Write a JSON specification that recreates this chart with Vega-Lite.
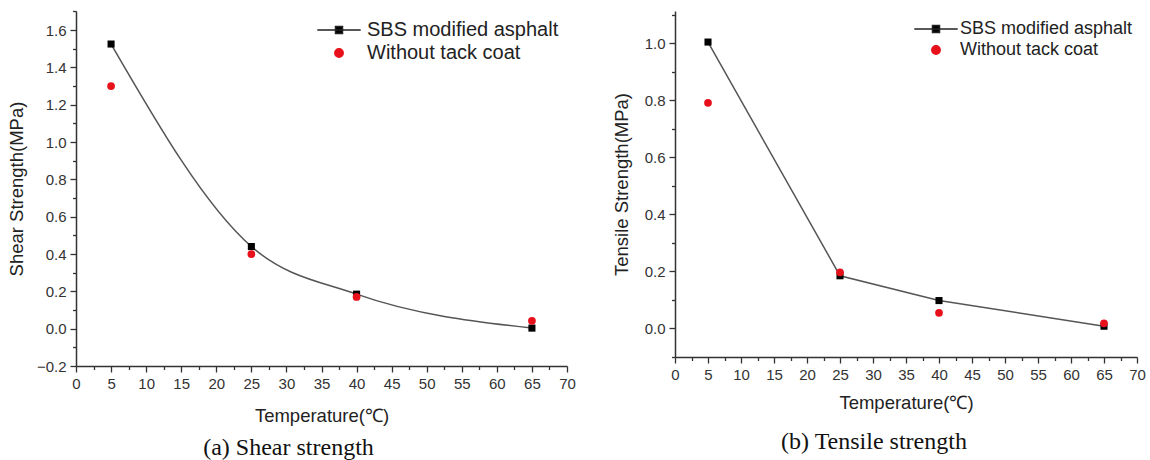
{
  "$schema": "https://vega.github.io/schema/vega-lite/v6.json",
  "background": "white",
  "padding": {"left": 7, "top": 4, "right": 5, "bottom": 0},
  "config": {
    "view": {"stroke": null},
    "axis": {
      "grid": false,
      "domainColor": "#333333",
      "domainWidth": 1.5,
      "tickColor": "#333333",
      "tickWidth": 1.3,
      "labelFont": "Liberation Sans",
      "labelFontSize": 15,
      "labelColor": "#333333",
      "titleFont": "Liberation Sans",
      "titleFontSize": 18.5,
      "titleFontWeight": "normal",
      "titleColor": "#222222",
      "labelFlush": false,
      "labelOverlap": false
    },
    "legend": {
      "orient": "none",
      "title": null,
      "padding": 0,
      "labelFont": "Liberation Sans",
      "labelFontSize": 20,
      "labelColor": "#222222",
      "labelLimit": 400,
      "symbolSize": 49,
      "symbolStrokeWidth": 1.5,
      "rowPadding": 3,
      "labelOffset": 18
    },
    "title": {"font": "Liberation Serif", "fontSize": 24, "fontWeight": "normal", "color": "#111111", "orient": "bottom", "anchor": "middle"}
  },
  "datasets": {
    "shear": [
      {"T": 5, "series": "SBS modified asphalt", "v": 1.525},
      {"T": 25, "series": "SBS modified asphalt", "v": 0.44},
      {"T": 40, "series": "SBS modified asphalt", "v": 0.185},
      {"T": 65, "series": "SBS modified asphalt", "v": 0.003},
      {"T": 5, "series": "Without tack coat", "v": 1.30},
      {"T": 25, "series": "Without tack coat", "v": 0.40},
      {"T": 40, "series": "Without tack coat", "v": 0.17},
      {"T": 65, "series": "Without tack coat", "v": 0.042}
    ],
    "tensile": [
      {"T": 5, "series": "SBS modified asphalt", "v": 1.005},
      {"T": 25, "series": "SBS modified asphalt", "v": 0.185},
      {"T": 40, "series": "SBS modified asphalt", "v": 0.098},
      {"T": 65, "series": "SBS modified asphalt", "v": 0.008},
      {"T": 5, "series": "Without tack coat", "v": 0.792},
      {"T": 25, "series": "Without tack coat", "v": 0.197},
      {"T": 40, "series": "Without tack coat", "v": 0.055},
      {"T": 65, "series": "Without tack coat", "v": 0.018}
    ]
  },
  "resolve": {
    "scale": {"shape": "independent", "fill": "independent", "stroke": "independent"},
    "legend": {"shape": "independent", "fill": "independent", "stroke": "independent"}
  },
  "spacing": 36,
  "hconcat": [
    {
      "width": 491,
      "height": 355,
      "title": {"text": "(a) Shear strength", "dx": -33, "offset": 11},
      "data": {"name": "shear"},
      "encoding": {
        "x": {
          "field": "T", "type": "quantitative",
          "scale": {"domain": [0, 70], "nice": false, "zero": false},
          "axis": {
            "title": "Temperature(℃)",
            "values": [0, 2.5, 5, 7.5, 10, 12.5, 15, 17.5, 20, 22.5, 25, 27.5, 30, 32.5, 35, 37.5, 40, 42.5, 45, 47.5, 50, 52.5, 55, 57.5, 60, 62.5, 65, 67.5, 70],
            "labelExpr": "datum.value % 5 === 0 ? format(datum.value, 'd') : ''",
            "tickSize": {"condition": {"test": "datum.value % 5 === 0", "value": 6}, "value": 3.5},
            "labelPadding": 4,
            "titlePadding": 15
          }
        },
        "y": {
          "field": "v", "type": "quantitative",
          "scale": {"domain": [-0.2, 1.702], "nice": false, "zero": false},
          "axis": {
            "title": "Shear Strength(MPa)",
            "values": [-0.2, -0.1, 0, 0.1, 0.2, 0.3, 0.4, 0.5, 0.6, 0.7, 0.8, 0.9, 1.0, 1.1, 1.2, 1.3, 1.4, 1.5, 1.6, 1.7],
            "labelExpr": "abs(round(datum.value * 10)) % 2 === 0 ? format(datum.value, '.1f') : ''",
            "tickSize": {"condition": {"test": "abs(round(datum.value * 10)) % 2 === 0", "value": 6}, "value": 3.5},
            "labelPadding": 4,
            "titlePadding": 10
          }
        }
      },
      "layer": [
        {
          "transform": [{"filter": "datum.series === 'SBS modified asphalt'"}],
          "mark": {"type": "line", "interpolate": "monotone", "color": "#555555", "strokeWidth": 1.5}
        },
        {
          "transform": [{"filter": "datum.series === 'SBS modified asphalt'"}],
          "mark": {"type": "point", "shape": "square", "filled": true, "color": "#000000", "size": 50, "opacity": 1}
        },
        {
          "transform": [{"filter": "datum.series === 'Without tack coat'"}],
          "mark": {"type": "point", "shape": "circle", "filled": true, "color": "#e8101a", "size": 60, "opacity": 1}
        },
        {
          "transform": [{"filter": "false"}],
          "mark": {"type": "point", "filled": true, "opacity": 1},
          "encoding": {
            "shape": {"field": "series", "type": "nominal",
              "scale": {"domain": ["SBS modified asphalt", "Without tack coat"], "range": ["M-6.2,0H6.2M-1,-1H1V1H-1Z", "M-1.2,0A1.2,1.2,0,1,1,1.2,0A1.2,1.2,0,1,1,-1.2,0Z"]},
              "legend": {"legendX": 253, "legendY": 9}},
            "fill": {"field": "series", "type": "nominal",
              "scale": {"domain": ["SBS modified asphalt", "Without tack coat"], "range": ["#000000", "#e8101a"]},
              "legend": {"legendX": 253, "legendY": 9}},
            "stroke": {"field": "series", "type": "nominal",
              "scale": {"domain": ["SBS modified asphalt", "Without tack coat"], "range": ["#222222", "#e8101a"]},
              "legend": {"legendX": 253, "legendY": 9}}
          }
        }
      ]
    },
    {
      "width": 462,
      "height": 346,
      "title": {"text": "(b) Tensile strength", "dx": -32, "offset": 18},
      "data": {"name": "tensile"},
      "encoding": {
        "x": {
          "field": "T", "type": "quantitative",
          "scale": {"domain": [0, 70], "nice": false, "zero": false},
          "axis": {
            "title": "Temperature(℃)",
            "values": [0, 2.5, 5, 7.5, 10, 12.5, 15, 17.5, 20, 22.5, 25, 27.5, 30, 32.5, 35, 37.5, 40, 42.5, 45, 47.5, 50, 52.5, 55, 57.5, 60, 62.5, 65, 67.5, 70],
            "labelExpr": "datum.value % 5 === 0 ? format(datum.value, 'd') : ''",
            "tickSize": {"condition": {"test": "datum.value % 5 === 0", "value": 6}, "value": 3.5},
            "labelPadding": 4,
            "titlePadding": 11
          }
        },
        "y": {
          "field": "v", "type": "quantitative",
          "scale": {"domain": [-0.1, 1.114], "nice": false, "zero": false},
          "axis": {
            "title": "Tensile Strength(MPa)",
            "values": [-0.1, 0, 0.1, 0.2, 0.3, 0.4, 0.5, 0.6, 0.7, 0.8, 0.9, 1.0, 1.1],
            "labelExpr": "abs(round(datum.value * 10)) % 2 === 0 ? format(datum.value, '.1f') : ''",
            "tickSize": {"condition": {"test": "abs(round(datum.value * 10)) % 2 === 0", "value": 6}, "value": 3.5},
            "labelPadding": 4,
            "titlePadding": 13
          }
        }
      },
      "layer": [
        {
          "transform": [{"filter": "datum.series === 'SBS modified asphalt'"}],
          "mark": {"type": "line", "interpolate": "linear", "color": "#555555", "strokeWidth": 1.5}
        },
        {
          "transform": [{"filter": "datum.series === 'SBS modified asphalt'"}],
          "mark": {"type": "point", "shape": "square", "filled": true, "color": "#000000", "size": 50, "opacity": 1}
        },
        {
          "transform": [{"filter": "datum.series === 'Without tack coat'"}],
          "mark": {"type": "point", "shape": "circle", "filled": true, "color": "#e8101a", "size": 60, "opacity": 1}
        },
        {
          "transform": [{"filter": "false"}],
          "mark": {"type": "point", "filled": true, "opacity": 1},
          "encoding": {
            "shape": {"field": "series", "type": "nominal",
              "scale": {"domain": ["SBS modified asphalt", "Without tack coat"], "range": ["M-6.2,0H6.2M-1,-1H1V1H-1Z", "M-1.2,0A1.2,1.2,0,1,1,1.2,0A1.2,1.2,0,1,1,-1.2,0Z"]},
              "legend": {"legendX": 252, "legendY": 9, "labelFontSize": 18, "labelOffset": 15}},
            "fill": {"field": "series", "type": "nominal",
              "scale": {"domain": ["SBS modified asphalt", "Without tack coat"], "range": ["#000000", "#e8101a"]},
              "legend": {"legendX": 252, "legendY": 9, "labelFontSize": 18, "labelOffset": 15}},
            "stroke": {"field": "series", "type": "nominal",
              "scale": {"domain": ["SBS modified asphalt", "Without tack coat"], "range": ["#222222", "#e8101a"]},
              "legend": {"legendX": 252, "legendY": 9, "labelFontSize": 18, "labelOffset": 15}}
          }
        }
      ]
    }
  ]
}
